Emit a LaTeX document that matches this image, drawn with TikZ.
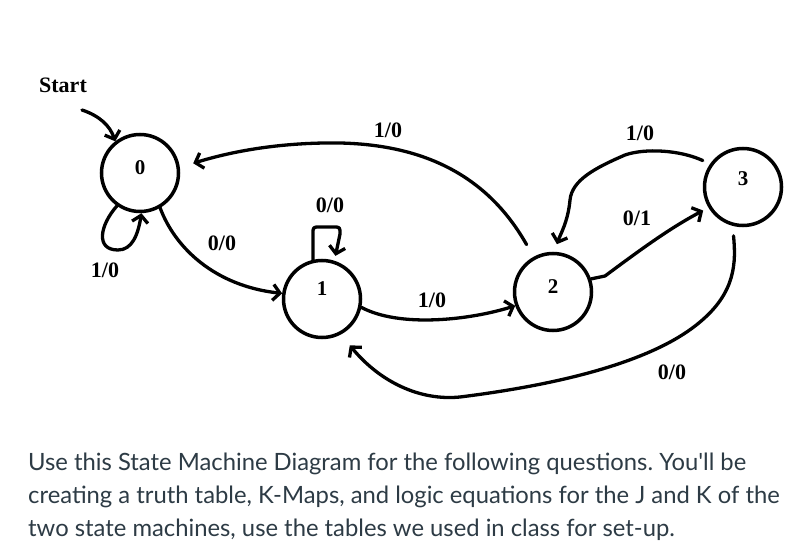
\documentclass[tikz,border=0pt]{standalone}
\usepackage{fontspec}
\setmainfont{Liberation Serif}
\newfontfamily\latofont{Lato}
\usetikzlibrary{arrows.meta}
\definecolor{txtcol}{HTML}{2D3B45}
\frenchspacing
\begin{document}
\begin{tikzpicture}[x=1pt,y=-1pt,
 state/.style={circle,draw,line width=3.5pt,minimum size=77pt,inner sep=0pt,font=\bfseries\fontsize{21}{24}\selectfont},
 lbl/.style={font=\bfseries\fontsize{22}{26}\selectfont,inner sep=0pt},
 edge/.style={line width=3.3pt,line cap=round,line join=round,-{Straight Barb[length=7pt,width=16pt,line width=3.3pt]}}]
\useasboundingbox (0,0) rectangle (808,556);
\fill[white] (0,0) rectangle (808,556);

\node[state] (s0) at (140,173) {\raisebox{11pt}{0}};
\node[state] (s1) at (322,299) {\raisebox{21pt}{1}};
\node[state] (s2) at (553,292) {\raisebox{10pt}{2}};
\node[state] (s3) at (743,187) {\raisebox{16pt}{3}};

\node[lbl] (start) at (63,85) {Start};
\coordinate (st) at (82,110);
\draw[edge] (st) .. controls (100,116) and (110,126) .. (s0.128);

% self loop 0
\draw[edge] (s0.-125) .. controls (100,225) and (95,250) .. (118,250)
  .. controls (132,250) and (138,235) .. (s0.-88);
\node[lbl] (l00) at (105,270) {1/0};

% 0 -> 1
\draw[edge] (s0.-60) .. controls (175,248) and (215,286) .. (s1.172);
\node[lbl] (l01) at (222,243) {0/0};

% self loop 1
\draw[edge,shorten >=5pt] (s1.103) -- (313,234) .. controls (313,227) .. (320,227) -- (333,227)
  .. controls (340,227) .. (340,234) -- (s1.72);
\node[lbl] (l11) at (330,205) {0/0};

% 1 -> 2
\draw[edge] (s1.-12) .. controls (400,328) and (470,320) .. (s2.200);
\node[lbl] (l12) at (432,300) {1/0};

% 2 -> 0
\draw[edge,shorten <=14pt,shorten >=14pt] (s2.119) .. controls (490,180) and (430,145) .. (340,143)
  .. controls (270,142) and (220,155) .. (s0.8);
\node[lbl] (l20) at (388,130) {1/0};

% 2 -> 3
\draw[edge,shorten >=6pt] (s2.19) -- (605,276) .. controls (640,250) and (670,228) .. (s3.211);
\node[lbl] (l23) at (637,218) {0/1};

% 3 -> 2
\draw[edge,shorten <=8pt,shorten >=8pt] (s3.145) .. controls (680,150) and (645,148) .. (625,155)
  .. controls (595,168) and (572,180) .. (570,200) .. controls (568,222) and (560,235) .. (s2.88);
\node[lbl] (l32) at (640,133) {1/0};

% 3 -> 1
\draw[edge,shorten <=10pt,shorten >=14pt] (s3.255) .. controls (736,262) and (736,292) .. (700,322)
  .. controls (660,356) and (580,382) .. (460,397) .. controls (420,401) and (380,382) .. (s1.-62);
\node[lbl] (l31) at (672,372) {0/0};

\node[anchor=north west,inner sep=0pt,align=left,text=txtcol,
  font=\latofont\fontsize{23.8}{32.8}\selectfont] (txt) at (28,453)
 {Use this State Machine Diagram for the following questions. You'll be\\
  creating a truth table, K-Maps, and logic equations for the J and K of the\\
  two state machines, use the tables we used in class for set-up.};
\end{tikzpicture}
\end{document}
